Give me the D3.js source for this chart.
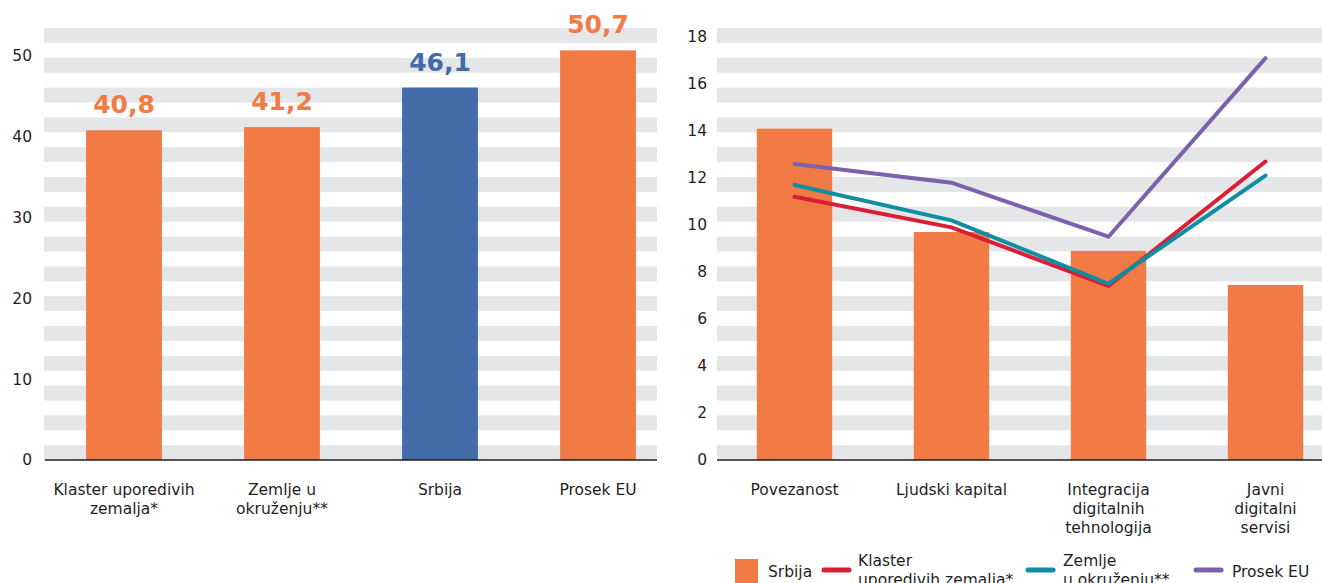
<!DOCTYPE html>
<html>
<head>
<meta charset="utf-8">
<script src="https://cdn.jsdelivr.net/npm/d3@7"></script>
<style>
  body { margin: 0; background: #fff; }
  svg { display: block; font-family: "DejaVu Sans", sans-serif; }
</style>
</head>
<body>
<script>
// left chart data
const groups = ["Klaster uporedivih|zemalja*", "Zemlje u|okruženju**", "Srbija", "Prosek EU"];
const totals = [40.8, 41.2, 46.1, 50.7];
const totalTicks = [0, 10, 20, 30, 40, 50];

// right chart data
const dimensions = ["Povezanost", "Ljudski kapital", "Integracija|digitalnih|tehnologija", "Javni|digitalni|servisi"];
const srbija = [14.1, 9.7, 8.9, 7.45];
const klaster = [11.2, 9.9, 7.4, 12.7];
const zemlje = [11.7, 10.2, 7.5, 12.1];
const prosekEU = [12.6, 11.8, 9.5, 17.1];
const dimTicks = [0, 2, 4, 6, 8, 10, 12, 14, 16, 18];

const orange = "#f27b45", blue = "#426ba8", red = "#d81f36", teal = "#0e8ea3", purple = "#7b62ad";
const stripe = "#e5e6e8", ink = "#1f1f1f";

const svg = d3.select("body").append("svg")
    .attr("width", 1322)
    .attr("height", 583);

const base = 460;

// gray stripe background, same for both panels
function stripes(x0, x1) {
  const g = svg.append("g");
  for (let y = 28; y < base - 5; y += 29.8) {
    g.append("rect")
      .attr("x", x0).attr("y", y)
      .attr("width", x1 - x0).attr("height", 14.9)
      .attr("fill", stripe);
  }
}

function wrapLabel(sel, text, x, y) {
  const t = sel.append("text")
    .attr("x", x).attr("y", y)
    .attr("text-anchor", "middle")
    .style("font-size", "15.5px")
    .style("fill", ink);
  text.split("|").forEach((line, i) => {
    t.append("tspan").attr("x", x).attr("dy", i === 0 ? 0 : 19).text(line);
  });
}

// ---------- left panel ----------
stripes(44, 657);

const xL = d3.scaleBand().domain(groups).range([45, 677])
    .paddingInner(0.52).paddingOuter(0.26);
const yL = d3.scaleLinear().domain([0, 50]).range([base, 56]);

svg.append("g").selectAll("rect")
  .data(totals)
  .join("rect")
    .attr("x", (d, i) => xL(groups[i]))
    .attr("y", d => yL(d))
    .attr("width", xL.bandwidth())
    .attr("height", d => base - yL(d))
    .attr("fill", (d, i) => i === 2 ? blue : orange);

svg.append("g").selectAll("text")
  .data(totals)
  .join("text")
    .attr("x", (d, i) => xL(groups[i]) + xL.bandwidth() / 2)
    .attr("y", d => yL(d) - 17)
    .attr("text-anchor", "middle")
    .style("font-size", "25px")
    .style("font-weight", "bold")
    .style("fill", (d, i) => i === 2 ? blue : orange)
    .text(d => d3.format(".1f")(d).replace(".", ","));

const axL = svg.append("g").attr("transform", "translate(32,0)")
    .call(d3.axisLeft(yL).tickValues(totalTicks).tickSize(0).tickPadding(0));
axL.select(".domain").remove();
axL.selectAll("text").style("font-size", "15.5px").style("fill", ink)
    .style("font-family", "DejaVu Sans");

svg.append("line")
    .attr("x1", 45).attr("x2", 657)
    .attr("y1", base).attr("y2", base)
    .attr("stroke", ink).attr("stroke-width", 1.6);

groups.forEach(g => wrapLabel(svg, g, xL(g) + xL.bandwidth() / 2, 495));

// ---------- right panel ----------
stripes(717, 1322);

const xR = d3.scaleBand().domain(dimensions).range([716, 1344])
    .paddingInner(0.52).paddingOuter(0.26);
const yR = d3.scaleLinear().domain([0, 18]).range([base, 37]);
const cx = (i) => xR(dimensions[i]) + xR.bandwidth() / 2;

svg.append("g").selectAll("rect")
  .data(srbija)
  .join("rect")
    .attr("x", (d, i) => xR(dimensions[i]))
    .attr("y", d => yR(d))
    .attr("width", xR.bandwidth())
    .attr("height", d => base - yR(d))
    .attr("fill", orange);

const line = d3.line().x((d, i) => cx(i)).y(d => yR(d));
[[klaster, red], [zemlje, teal], [prosekEU, purple]].forEach(([vals, col]) => {
  svg.append("path")
    .attr("d", line(vals))
    .attr("fill", "none")
    .attr("stroke", col)
    .attr("stroke-width", 4)
    .attr("stroke-linecap", "round");
});

const axR = svg.append("g").attr("transform", "translate(707,0)")
    .call(d3.axisLeft(yR).tickValues(dimTicks).tickSize(0).tickPadding(0));
axR.select(".domain").remove();
axR.selectAll("text").style("font-size", "15.5px").style("fill", ink)
    .style("font-family", "DejaVu Sans");

svg.append("line")
    .attr("x1", 717).attr("x2", 1322)
    .attr("y1", base).attr("y2", base)
    .attr("stroke", ink).attr("stroke-width", 1.6);

dimensions.forEach((d, i) => wrapLabel(svg, d, cx(i), 495));

// ---------- legend ----------
const leg = svg.append("g").style("font-size", "15.5px").style("fill", ink);
leg.append("rect").attr("x", 735).attr("y", 559).attr("width", 23).attr("height", 26).attr("fill", orange);
leg.append("text").attr("x", 768).attr("y", 577).text("Srbija");

function legLine(x, col) {
  leg.append("line").attr("x1", x).attr("x2", x + 25).attr("y1", 570).attr("y2", 570)
    .attr("stroke", col).attr("stroke-width", 5).attr("stroke-linecap", "round");
}
function legText(x, lines) {
  const t = leg.append("text").attr("x", x).attr("y", 566);
  lines.forEach((l, i) => t.append("tspan").attr("x", x).attr("dy", i ? 19 : 0).text(l));
}
legLine(824, red);
legText(858, ["Klaster", "uporedivih zemalja*"]);
legLine(1028, teal);
legText(1063, ["Zemlje", "u okruženju**"]);
legLine(1196, purple);
legText(1232, ["Prosek EU"]);
leg.select("text:last-child").attr("y", 577);
</script>
</body>
</html>
